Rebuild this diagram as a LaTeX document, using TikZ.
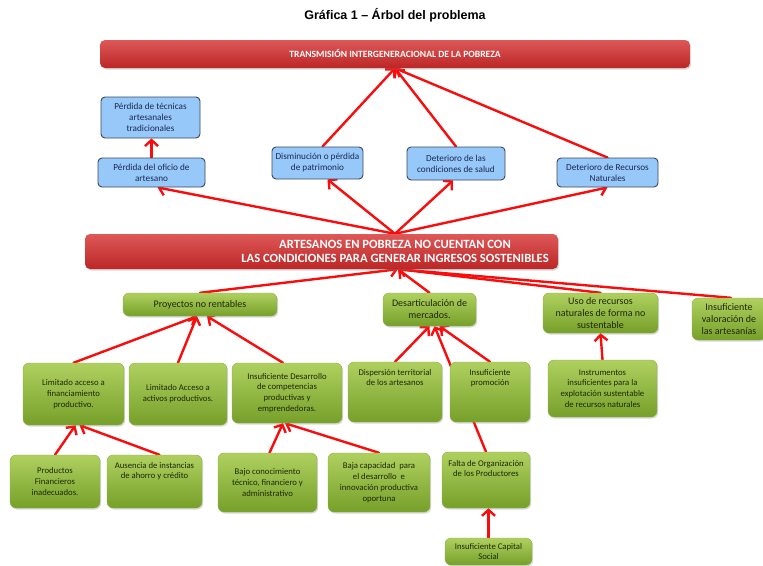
\documentclass[tikz,border=0pt]{standalone}
\usepackage{fontspec}
\setmainfont{Carlito}
\newfontfamily\titlefont{Liberation Sans}
\usetikzlibrary{arrows.meta,shadows,backgrounds,calc}
\definecolor{arrowred}{RGB}{250,12,12}
\definecolor{bfill}{RGB}{150,200,250}
\definecolor{bdraw}{RGB}{60,70,90}
\definecolor{btext}{RGB}{30,40,80}
\definecolor{gtop}{RGB}{175,208,95}
\definecolor{gbot}{RGB}{118,160,42}
\definecolor{gdraw}{RGB}{140,175,70}
\definecolor{gtextc}{RGB}{30,40,10}
\definecolor{rtop}{RGB}{222,88,88}
\definecolor{rbot}{RGB}{188,38,38}
\tikzset{
  bluebox/.style={rounded corners=4pt, fill=bfill, draw=bdraw, line width=0.9pt,
    align=center, inner sep=1pt, text=btext, font=\fontsize{9.2}{11}\selectfont},
  gbox/.style={rounded corners=6pt, top color=gtop, bottom color=gbot, draw=gdraw,
    line width=0.4pt, drop shadow={opacity=0.3, shadow xshift=1.2pt, shadow yshift=-1.5pt},
    align=center, inner sep=2pt, text=gtextc, font=\fontsize{8.7}{10.8}\selectfont},
  gbig/.style={gbox, font=\fontsize{10}{12}\selectfont},
  gtop/.style={align=center, text=gtextc, font=\fontsize{8.7}{10.8}\selectfont, inner sep=0pt},
  banner/.style={rounded corners=5pt, top color=rtop, bottom color=rbot, draw=none,
    drop shadow={opacity=0.3, shadow xshift=1.2pt, shadow yshift=-1.5pt}},
  conn/.style={draw=arrowred, line width=2.4pt, line cap=round,
    -{Straight Barb[length=6pt,width=13pt]}},
}
\begin{document}
\begin{tikzpicture}[x=1pt,y=-1pt]
\useasboundingbox (0,0) rectangle (763,565);
% title
\node[font=\titlefont\bfseries\fontsize{12.5}{14}\selectfont] (title) at (395,15) {Gráfica 1 – Árbol del problema};
% top banner
\node[banner, minimum width=590pt, minimum height=28pt, text=white,
  font=\bfseries\fontsize{9.6}{10}\selectfont] (topb) at (395,54) {TRANSMISIÓN INTERGENERACIONAL DE LA POBREZA};
% blue boxes
\node[bluebox, minimum width=99pt, minimum height=41pt] (tec) at (150.5,117.5) {Pérdida de técnicas\\artesanales\\tradicionales};
\node[bluebox, minimum width=107pt, minimum height=29pt] (ofi) at (151.5,172.5) {Pérdida del oficio de\\artesano};
\node[bluebox, minimum width=91pt, minimum height=32pt] (pat) at (317.5,163) {Disminución o pérdida\\de patrimonio};
\node[bluebox, minimum width=98pt, minimum height=33pt] (sal) at (456,163.5) {Deterioro de las\\condiciones de salud};
\node[bluebox, minimum width=101pt, minimum height=29pt] (rec) at (607.5,172.5) {Deterioro de Recursos\\Naturales};
% middle banner
\node[banner, minimum width=473pt, minimum height=35pt] (mid) at (321.5,251.5) {};
\node[text=white, align=center, font=\bfseries\fontsize{12.6}{14}\selectfont] (midtxt) at (395,251.5)
  {ARTESANOS EN POBREZA NO CUENTAN CON\\LAS CONDICIONES PARA GENERAR INGRESOS SOSTENIBLES};
% green row 1
\node[gbig, minimum width=154pt, minimum height=23pt] (pro) at (200,304.5) {Proyectos no rentables};
\node[gbig, minimum width=93pt, minimum height=33pt] (des) at (429.5,309.5) {Desarticulación de\\mercados.};
\node[gbig, minimum width=115pt, minimum height=40pt] (uso) at (600.5,313) {Uso de recursos\\naturales de forma no\\sustentable};
\node[gbig, minimum width=74pt, minimum height=42pt] (val) at (729,319) {Insuficiente\\valoración de\\las artesanías};
% green row 2
\node[gbox, minimum width=101pt, minimum height=62pt] (lfin) at (73.5,394) {Limitado acceso a\\financiamiento\\productivo.};
\node[gbox, minimum width=98pt, minimum height=62pt] (lact) at (178,394) {Limitado Acceso a\\activos productivos.};
\node[gbox, minimum width=110pt, minimum height=60pt] (ides) at (287,393) {Insuficiente Desarrollo\\de competencias\\productivas y\\emprendedoras.};
\node[gbox, minimum width=94pt, minimum height=60pt,
  label={[gtop, anchor=north, yshift=-7pt]north:{Dispersión territorial\\de los artesanos}}] (disp) at (395,392) {};
\node[gbox, minimum width=80pt, minimum height=60pt,
  label={[gtop, anchor=north, yshift=-7pt]north:{Insuficiente\\promoción}}] (prom) at (490,392) {};
\node[gbox, minimum width=109pt, minimum height=57pt] (ins) at (602.5,388.5) {Instrumentos\\insuficientes para la\\explotación sustentable\\de recursos naturales};
% green row 3
\node[gbox, minimum width=90pt, minimum height=53pt] (prod) at (55,481.5) {Productos\\Financieros\\inadecuados.};
\node[gbox, minimum width=95pt, minimum height=53pt,
  label={[gtop, anchor=north, yshift=-7pt]north:{Ausencia de instancias\\de ahorro y crédito}}] (aus) at (154.5,481.5) {};
\node[gbox, minimum width=99pt, minimum height=59pt] (bajo) at (267.5,482.5) {Bajo conocimiento\\técnico, financiero y\\administrativo};
\node[gbox, minimum width=102pt, minimum height=59pt] (bcap) at (379,482.5) {Baja capacidad\ \ para\\el desarrollo\ \ e\\innovación productiva\\oportuna};
\node[gbox, minimum width=88pt, minimum height=56pt,
  label={[gtop, anchor=north, yshift=-8pt]north:{Falta de Organización\\de los Productores}}] (falta) at (486,480) {};
\node[gbox, minimum width=87pt, minimum height=27pt] (cap) at (488.5,551.5) {Insuficiente Capital\\Social};
% connectors
\begin{scope}[on background layer]
\coordinate (mtop) at (midtxt |- mid.north);
\coordinate (mbot) at ($(midtxt |- mid.south)+(3,0)$);
\draw[conn] (mtop) -- ([xshift=6pt]ofi.south);
\draw[conn] (mtop) -- ([xshift=10pt]pat.south);
\draw[conn] (mtop) -- ([xshift=-3pt]sal.south);
\draw[conn] (mtop) -- (rec.south);
\draw[conn] ([xshift=5pt]pat.north) -- (topb.south);
\draw[conn] (sal.north) -- (topb.south);
\draw[conn] (rec.north) -- (topb.south);
\draw[conn] (ofi.north) -- (ofi.north |- tec.south);
\draw[conn] (pro.north) -- (mbot);
\draw[conn] (des.north) -- (mbot);
\draw[conn] (uso.north) -- (mbot);
\draw[conn] ([xshift=2pt]val.north) -- (mbot);
\draw[conn] (lfin.north) -- ([xshift=-3pt]pro.south);
\draw[conn] (lact.north) -- ([xshift=-3pt]pro.south);
\draw[conn] ([xshift=-4pt]ides.north) -- ([xshift=7pt]pro.south);
\draw[conn] (disp.north) -- (des.south);
\draw[conn] (prom.north) -- ([xshift=10pt]des.south);
\draw[conn] (falta.north) -- ([xshift=5pt]des.south);
\draw[conn] (ins.north) -- (uso.south);
\draw[conn] (cap.north) -- (cap.north |- falta.south);
\draw[conn] (prod.north) -- ([xshift=2pt]lfin.south);
\draw[conn] ([xshift=5pt]aus.north) -- ([xshift=6pt]lfin.south);
\draw[conn] ([xshift=2pt]bajo.north) -- ([xshift=-4pt]ides.south);
\draw[conn] (bcap.north) -- ([xshift=-2pt]ides.south);
\end{scope}
\end{tikzpicture}
\end{document}
